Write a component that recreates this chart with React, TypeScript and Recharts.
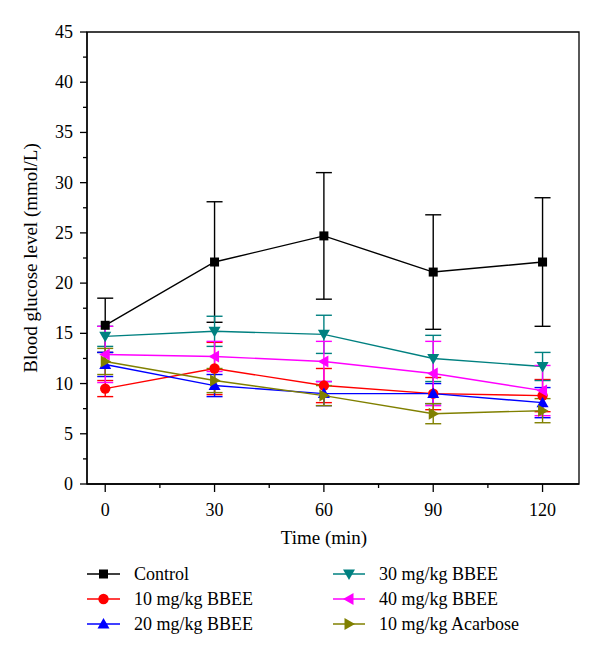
import React from "react";
import {
  ErrorBar,
  Line,
  LineChart,
  ReferenceArea,
  XAxis,
  YAxis,
} from "recharts";

const times = [0, 30, 60, 90, 120];

const control = [15.8, 22.1, 24.7, 21.1, 22.1];
const controlErr = [2.7, 6.0, 6.3, 5.7, 6.4];
const bbee10 = [9.5, 11.5, 9.8, 9.0, 8.8];
const bbee10Err = [0.8, 2.6, 1.7, 1.6, 1.6];
const bbee20 = [11.9, 9.8, 9.0, 9.0, 8.1];
const bbee20Err = [1.2, 1.1, 1.2, 1.0, 1.5];
const bbee30 = [14.7, 15.2, 14.9, 12.5, 11.7];
const bbee30Err = [1.0, 1.5, 1.9, 2.3, 1.4];
const bbee40 = [12.9, 12.7, 12.2, 11.0, 9.3];
const bbee40Err = [2.8, 1.5, 2.0, 3.2, 2.5];
const acarbose = [12.2, 10.3, 8.8, 7.0, 7.3];
const acarboseErr = [1.3, 1.2, 1.0, 1.0, 1.2];

const xTicks = [0, 15, 30, 45, 60, 75, 90, 105, 120];
const yTicks = [0, 2.5, 5, 7.5, 10, 12.5, 15, 17.5, 20, 22.5, 25, 27.5, 30, 32.5, 35, 37.5, 40, 42.5, 45];

type Shape = "square" | "circle" | "up" | "down" | "left" | "right";

const series: {
  key: string;
  name: string;
  color: string;
  shape: Shape;
  values: number[];
  errors: number[];
}[] = [
  { key: "control", name: "Control", color: "#000000", shape: "square", values: control, errors: controlErr },
  { key: "bbee10", name: "10 mg/kg BBEE", color: "#ff0000", shape: "circle", values: bbee10, errors: bbee10Err },
  { key: "bbee20", name: "20 mg/kg BBEE", color: "#0000ff", shape: "up", values: bbee20, errors: bbee20Err },
  { key: "bbee30", name: "30 mg/kg BBEE", color: "#008080", shape: "down", values: bbee30, errors: bbee30Err },
  { key: "bbee40", name: "40 mg/kg BBEE", color: "#ff00ff", shape: "left", values: bbee40, errors: bbee40Err },
  { key: "acarbose", name: "10 mg/kg Acarbose", color: "#808000", shape: "right", values: acarbose, errors: acarboseErr },
];

const data = times.map((t, i) => {
  const row: Record<string, number> = { t };
  series.forEach((s) => {
    row[s.key] = s.values[i];
    row[s.key + "Err"] = s.errors[i];
  });
  return row;
});

const FONT = '"Liberation Serif", "Times New Roman", serif';

function Marker({ cx, cy, shape, color }: { cx: number; cy: number; shape: Shape; color: string }) {
  if (cx == null || cy == null) return null;
  const a = 6;
  const b = 4.5;
  switch (shape) {
    case "square":
      return <rect x={cx - 4.5} y={cy - 4.5} width={9} height={9} fill={color} />;
    case "circle":
      return <circle cx={cx} cy={cy} r={5.2} fill={color} />;
    case "up":
      return <polygon points={`${cx},${cy - a} ${cx - a},${cy + b} ${cx + a},${cy + b}`} fill={color} />;
    case "down":
      return <polygon points={`${cx},${cy + a} ${cx - a},${cy - b} ${cx + a},${cy - b}`} fill={color} />;
    case "left":
      return <polygon points={`${cx - a},${cy} ${cx + b},${cy - a} ${cx + b},${cy + a}`} fill={color} />;
    default:
      return <polygon points={`${cx + a},${cy} ${cx - b},${cy - a} ${cx - b},${cy + a}`} fill={color} />;
  }
}

function XTick({ x, y, payload }: any) {
  const major = payload.value % 30 === 0;
  return (
    <g>
      <line x1={x} y1={y} x2={x} y2={y + (major ? 8 : 4)} stroke="#000" strokeWidth={1.3} />
      {major && (
        <text x={x} y={y + 32} textAnchor="middle" fontSize={18} fontFamily={FONT} fill="#000">
          {payload.value}
        </text>
      )}
    </g>
  );
}

function YTick({ x, y, payload }: any) {
  const major = payload.value % 5 === 0;
  return (
    <g>
      <line x1={x} y1={y} x2={x - (major ? 7 : 4)} y2={y} stroke="#000" strokeWidth={1.3} />
      {major && (
        <text x={x - 14} y={y + 6} textAnchor="end" fontSize={18} fontFamily={FONT} fill="#000">
          {payload.value}
        </text>
      )}
    </g>
  );
}

function Legend() {
  const rows = [574, 599, 624];
  const cols = [
    { x1: 87, x2: 120, tx: 134 },
    { x1: 333, x2: 365, tx: 379 },
  ];
  return (
    <svg
      width={600}
      height={657}
      style={{ position: "absolute", left: 0, top: 0, pointerEvents: "none" }}
    >
      {series.map((s, i) => {
        const col = cols[Math.floor(i / 3)];
        const y = rows[i % 3];
        const mx = (col.x1 + col.x2) / 2;
        return (
          <g key={s.key}>
            <line x1={col.x1} y1={y} x2={col.x2} y2={y} stroke={s.color} strokeWidth={1.5} />
            <Marker cx={mx} cy={y} shape={s.shape} color={s.color} />
            <text x={col.tx} y={y + 6} fontSize={18} fontFamily={FONT} fill="#000">
              {s.name}
            </text>
          </g>
        );
      })}
    </svg>
  );
}

export default function App() {
  return (
    <div style={{ position: "absolute", left: 0, top: 0, width: 600, height: 657, background: "#fff" }}>
      <LineChart
        width={600}
        height={657}
        data={data}
        margin={{ top: 32, right: 21, bottom: 113, left: 0 }}
      >
        <XAxis
          dataKey="t"
          type="number"
          domain={[-5, 130]}
          ticks={xTicks}
          interval={0}
          allowDataOverflow
          height={60}
          tickSize={0}
          tickMargin={0}
          tickLine={false}
          axisLine={{ stroke: "#000", strokeWidth: 1.3 }}
          tick={<XTick />}
          label={{
            content: (props: any) => {
              const vb = props.viewBox;
              return (
                <text x={324} y={vb.y + 60} textAnchor="middle" fontSize={19} fontFamily={FONT} fill="#000">
                  Time (min)
                </text>
              );
            },
          }}
        />
        <YAxis
          type="number"
          domain={[0, 45]}
          ticks={yTicks}
          interval={0}
          width={87}
          tickSize={0}
          tickMargin={0}
          tickLine={false}
          axisLine={{ stroke: "#000", strokeWidth: 1.3 }}
          tick={<YTick />}
          label={{
            content: (props: any) => {
              const vb = props.viewBox;
              const cy = vb.y + vb.height / 2;
              return (
                <text
                  x={37}
                  y={cy}
                  transform={`rotate(-90 37 ${cy})`}
                  textAnchor="middle"
                  fontSize={19}
                  fontFamily={FONT}
                  fill="#000"
                >
                  Blood glucose level (mmol/L)
                </text>
              );
            },
          }}
        />
        <ReferenceArea
          x1={-5}
          x2={130}
          y1={0}
          y2={45}
          fill="none"
          stroke="#000"
          strokeWidth={1.3}
          ifOverflow="visible"
        />
        {series.map((s) => (
          <Line
            key={s.key}
            dataKey={s.key}
            name={s.name}
            type="linear"
            stroke={s.color}
            strokeWidth={1.4}
            isAnimationActive={false}
            dot={(p: any) => (
              <Marker key={`${s.key}-${p.index}`} cx={p.cx} cy={p.cy} shape={s.shape} color={s.color} />
            )}
            activeDot={false}
          >
            <ErrorBar
              dataKey={s.key + "Err"}
              direction="y"
              width={8}
              stroke={s.color}
              strokeWidth={1.4}
              isAnimationActive={false}
            />
          </Line>
        ))}
      </LineChart>
      <Legend />
    </div>
  );
}
